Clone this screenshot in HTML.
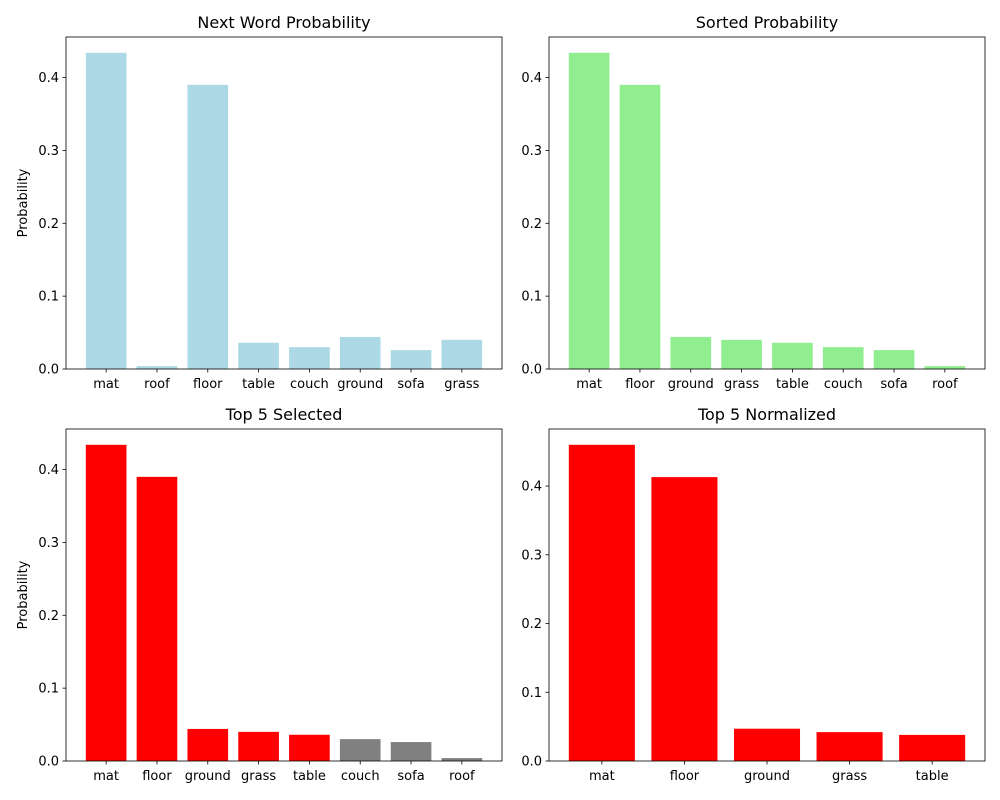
<!DOCTYPE html>
<html><head><meta charset="utf-8">
<style>
html,body{margin:0;padding:0;background:#fff;}
svg{display:block;font-family:"DejaVu Sans","Liberation Sans",sans-serif;}
</style></head>
<body>
<svg id="fig" width="1000" height="800" xmlns="http://www.w3.org/2000/svg"></svg>
<script>
const cats1 = ["mat","roof","floor","table","couch","ground","sofa","grass"];
const vals1 = [0.434,0.004,0.390,0.036,0.030,0.044,0.026,0.040];
const cats2 = ["mat","floor","ground","grass","table","couch","sofa","roof"];
const vals2 = [0.434,0.390,0.044,0.040,0.036,0.030,0.026,0.004];
const cols3 = ["red","red","red","red","red","gray","gray","gray"];
const cats4 = ["mat","floor","ground","grass","table"];
const vals4 = [0.460,0.413,0.047,0.042,0.038];
const yticks = [0,0.1,0.2,0.3,0.4];
const ytickLabels = ["0.0","0.1","0.2","0.3","0.4"];

const NS="http://www.w3.org/2000/svg";
const fig=document.getElementById('fig');
function mk(tag,attrs,parent){const e=document.createElementNS(NS,tag);for(const k in attrs)e.setAttribute(k,attrs[k]);(parent||fig).appendChild(e);return e;}

function panel(name,x0,y0,w,h,cats,vals,colors,title,ylabel){
  const g=mk('g',{});
  
  
  const n=cats.length;
  const lo=-0.4,hi=n-1+0.4,pad=(hi-lo)*0.05;
  const xs=v=>x0+(v-(lo-pad))/((hi-lo)+2*pad)*w;
  const ymax=Math.max(...vals)*1.05;
  const ys=v=>y0+h-v/ymax*h;
  cats.forEach((c,i)=>{
    const r=mk('rect',{x:xs(i-0.4),y:ys(vals[i]),width:xs(i+0.4)-xs(i-0.4),height:ys(0)-ys(vals[i]),fill:Array.isArray(colors)?colors[i]:colors},g);
    
    
    mk('line',{x1:xs(i),x2:xs(i),y1:y0+h,y2:y0+h+3.5,stroke:'#000','stroke-width':0.8},g);
    const t=mk('text',{x:xs(i),y:y0+h+19,'text-anchor':'middle','font-size':13,fill:'#000'},g);
    t.textContent=c;
    
    
  });
  yticks.forEach((v,i)=>{
    if(v>ymax)return;
    mk('line',{x1:x0-3.5,x2:x0,y1:ys(v),y2:ys(v),stroke:'#000','stroke-width':0.8},g);
    const t=mk('text',{x:x0-7,y:ys(v)+4.5,'text-anchor':'end','font-size':13,fill:'#000'},g);
    t.textContent=ytickLabels[i];
    
    
  });
  const fr=mk('rect',{x:x0,y:y0,width:w,height:h,fill:'none',stroke:'#000','stroke-width':0.8},g);
  
  
  const tt=mk('text',{x:x0+w/2,y:y0-9,'text-anchor':'middle','font-size':16,fill:'#000'},g);
  tt.textContent=title;
  
  
  if(ylabel){
    const yl=mk('text',{x:0,y:0,'text-anchor':'middle','font-size':13,fill:'#000',transform:`translate(27,${y0+h/2}) rotate(-90)`},g);
    yl.textContent=ylabel;
    
    
  }
}
panel('next-word-probability-chart',66,37,436,332,cats1,vals1,'lightblue','Next Word Probability','Probability');
panel('sorted-probability-chart',549,37,436,332,cats2,vals2,'lightgreen','Sorted Probability',null);
panel('top5-selected-chart',66,429,436,332,cats2,vals2,cols3,'Top 5 Selected','Probability');
panel('top5-normalized-chart',549,429,436,332,cats4,vals4,'red','Top 5 Normalized',null);
</script>
</body></html>
